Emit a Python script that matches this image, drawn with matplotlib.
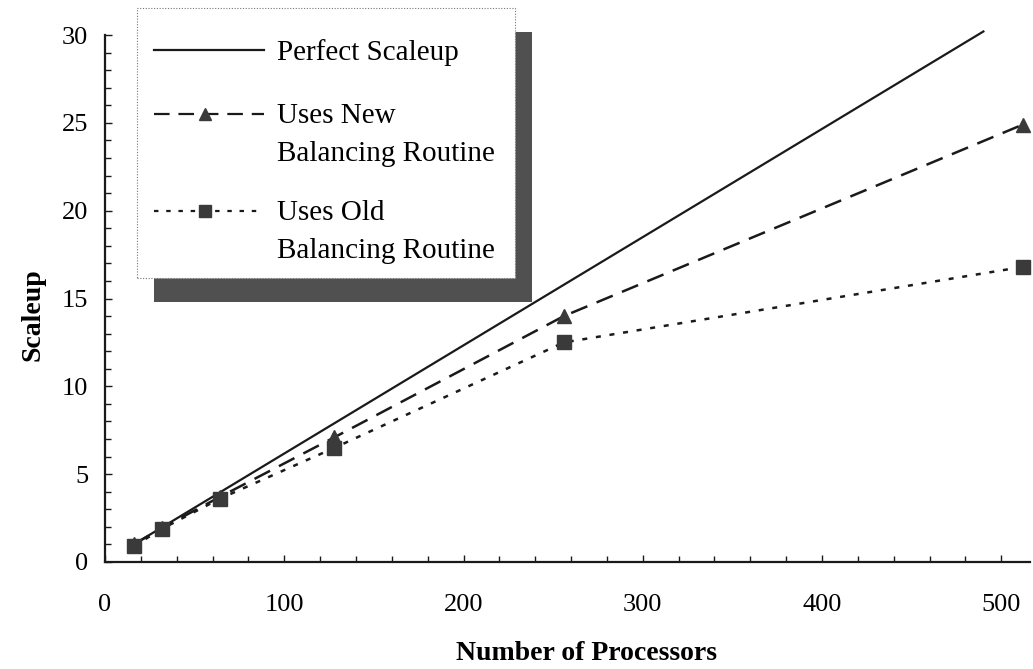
import matplotlib
matplotlib.use("Agg")
import matplotlib.pyplot as plt
from matplotlib.patches import Rectangle
from matplotlib.lines import Line2D
from matplotlib.ticker import MultipleLocator

plt.rcParams['font.family'] = ['Liberation Serif', 'DejaVu Serif']

# data
procs = [16, 32, 64, 128, 256, 512]
perfect_x = [16, 490]
perfect_y = [1.0, 30.2]
new_balance = [1.0, 1.95, 3.7, 7.1, 14.0, 24.9]
old_balance = [0.9, 1.9, 3.6, 6.5, 12.5, 16.8]

legend_labels = ["Perfect Scaleup",
                 "Uses New\nBalancing Routine",
                 "Uses Old\nBalancing Routine"]

W, H = 1033, 669
fig = plt.figure(figsize=(W / 100, H / 100), dpi=100)
ax = fig.add_axes([105 / W, 1 - 562 / H, (1030 - 105) / W, (562 - 35) / H])

ink = '#1a1a1a'
ax.plot(perfect_x, perfect_y, color=ink, lw=1.6, clip_on=False, zorder=3)
ax.plot(procs, new_balance, color=ink, lw=1.8, dashes=(7, 4),
        marker='^', ms=10, mfc='#3a3a3a', mec='#3a3a3a', clip_on=False, zorder=4)
ax.plot(procs, old_balance, color=ink, lw=1.8, dashes=(2, 3.5),
        marker='s', ms=9.5, mfc='#3a3a3a', mec='#3a3a3a', clip_on=False, zorder=4)

ax.set_xlim(0, 516)
ax.set_ylim(0, 30)
for s in ['top', 'right']:
    ax.spines[s].set_visible(False)
for s in ['left', 'bottom']:
    ax.spines[s].set_linewidth(1.6)
    ax.spines[s].set_color(ink)

ax.xaxis.set_major_locator(MultipleLocator(100))
ax.xaxis.set_minor_locator(MultipleLocator(20))
ax.yaxis.set_major_locator(MultipleLocator(5))
ax.yaxis.set_minor_locator(MultipleLocator(1))
ax.tick_params(which='both', direction='in', color=ink, width=1.0, labelsize=19)
ax.tick_params(which='major', length=5)
ax.tick_params(which='minor', length=4)
ax.tick_params(axis='x', which='major', pad=23)
ax.tick_params(axis='y', which='major', pad=12)

fig.text(587 / W, 1 - 653 / H, "Number of Processors", ha='center', va='center',
         fontsize=20, fontweight='bold')
fig.text(33 / W, 1 - 315 / H, "Scaleup", ha='center', va='center',
         fontsize=20, fontweight='bold', rotation=90)


# hand-made legend box with drop shadow, in figure pixels
def fx(x):
    return x / W


def fy(y):
    return 1 - y / H


bx0, by0, bx1, by1 = 137, 8, 515, 278
off_x, off_y = 17, 24
fig.add_artist(Rectangle((fx(bx0 + off_x), fy(by1 + off_y)), (bx1 - bx0) / W,
                         (by1 - by0) / H, transform=fig.transFigure,
                         facecolor='#505050', edgecolor='none', zorder=5))
fig.add_artist(Rectangle((fx(bx0), fy(by1)), (bx1 - bx0) / W, (by1 - by0) / H,
                         transform=fig.transFigure, facecolor='white',
                         edgecolor='#777777', lw=0.8, linestyle=(0, (1, 1.5)),
                         zorder=6))

line_x = [fx(154), fx(264)]
rows = [50, 114, 211]
styles = [dict(ls='-'), dict(dashes=(7, 4)), dict(dashes=(2, 3.5))]
markers = [None, '^', 's']
for row, st, mk in zip(rows, styles, markers):
    fig.add_artist(Line2D(line_x, [fy(row)] * 2, transform=fig.transFigure,
                          color=ink, lw=1.6, zorder=7, **st))
    if mk:
        fig.add_artist(Line2D([fx(205)], [fy(row)], transform=fig.transFigure,
                              marker=mk, ms=9, mfc='#3a3a3a', mec='#3a3a3a',
                              ls='none', zorder=8))

for row, lab in zip(rows, legend_labels):
    fig.text(fx(277), fy(row - 11), lab, ha='left', va='top', fontsize=21,
             linespacing=1.6, zorder=8)

fig.savefig("out.png", dpi=100)
